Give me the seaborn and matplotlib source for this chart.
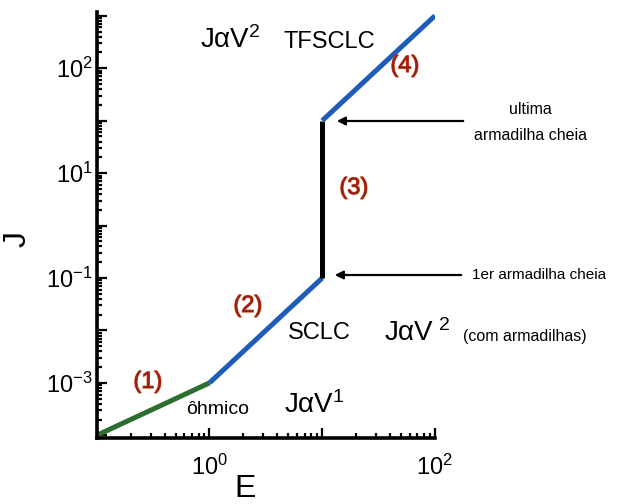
import numpy as np
import pandas as pd
import matplotlib
matplotlib.use("Agg")
import matplotlib.pyplot as plt
import matplotlib.ticker as mticker
import matplotlib.patheffects as pe
import seaborn as sns

# trechos da curva J x E (log-log)
trecho = ["ohmico", "ohmico", "sclc", "sclc", "tfl", "tfl", "tfsclc", "tfsclc"]
campo_E = [0.1, 1.0, 1.0, 10.0, 10.0, 10.0, 10.0, 100.0]
corrente_J = [1e-4, 1e-3, 1e-3, 1e-1, 1e-1, 1e2, 1e2, 1e4]
cores = {"ohmico": "#2b6e30", "sclc": "#1f5cb8", "tfl": "#000000", "tfsclc": "#1f5cb8"}

# rotulos dos eixos como aparecem na figura
y_rotulos = {-3: r"$10^{-3}$", -1: r"$10^{-1}$", 1: r"$10^{1}$", 3: r"$10^{2}$"}
x_rotulos = {0: r"$10^{0}$", 2: r"$10^{2}$"}

sns.set_style("white")
plt.rcParams["font.family"] = ["Liberation Sans", "DejaVu Sans"]
plt.rcParams["text.color"] = "black"
plt.rcParams["mathtext.fontset"] = "custom"
plt.rcParams["mathtext.rm"] = "Liberation Sans"
plt.rcParams["mathtext.it"] = "Liberation Sans"

df = pd.DataFrame({"E": campo_E, "J": corrente_J, "trecho": trecho})
df["seg"] = np.repeat(np.arange(len(trecho) // 2), 2)

fig = plt.figure(figsize=(6.24, 5.04), dpi=100)
ax = fig.add_axes([0.155, 0.131, 0.542, 0.845])

for s, g in df.groupby("seg"):
    sns.lineplot(data=g, x="E", y="J", color=cores[g["trecho"].iloc[0]],
                 lw=3.6, sort=False, estimator=None, ax=ax, legend=False,
                 solid_capstyle="butt")

ax.set_xscale("log")
ax.set_yscale("log")
ax.set_xlim(10 ** -1.0, 10 ** 2.0)
ax.set_ylim(10 ** -4.05, 10 ** 4.07)

ax.xaxis.set_major_locator(mticker.LogLocator(base=10, numticks=20))
ax.yaxis.set_major_locator(mticker.LogLocator(base=10, numticks=20))
ax.xaxis.set_minor_locator(mticker.LogLocator(base=10, subs=np.arange(2, 10), numticks=20))
ax.yaxis.set_minor_locator(mticker.LogLocator(base=10, subs=np.arange(2, 10), numticks=20))
ax.xaxis.set_major_formatter(mticker.FuncFormatter(
    lambda v, p: x_rotulos.get(int(round(np.log10(v))), "")))
ax.yaxis.set_major_formatter(mticker.FuncFormatter(
    lambda v, p: y_rotulos.get(int(round(np.log10(v))), "")))
ax.xaxis.set_minor_formatter(mticker.NullFormatter())
ax.yaxis.set_minor_formatter(mticker.NullFormatter())

ax.tick_params(which="both", direction="in", width=1.6, colors="black",
               bottom=True, left=True, top=False, right=False)
ax.tick_params(which="major", length=7, labelsize=17, labelcolor="black")
ax.tick_params(which="minor", length=3.5)
ax.tick_params(axis="x", which="major", pad=12)
ax.tick_params(axis="y", which="major", pad=3)

sns.despine(ax=ax)
for lado in ["left", "bottom"]:
    ax.spines[lado].set_linewidth(2.6)
    ax.spines[lado].set_color("black")

ax.set_xlabel("E", fontsize=23, color="black")
ax.set_ylabel("J", fontsize=23, color="black")
ax.xaxis.set_label_coords(0.438, -0.085)
ax.yaxis.set_label_coords(-0.19, 0.468)

vermelho = dict(color="#8a2414", fontsize=17,
                path_effects=[pe.withStroke(linewidth=0.9, foreground="#d8401f")])
fig.text(405 / 624, 1 - 66 / 504, "(4)", ha="center", va="center", **vermelho)
fig.text(354 / 624, 1 - 188 / 504, "(3)", ha="center", va="center", **vermelho)
fig.text(248 / 624, 1 - 306 / 504, "(2)", ha="center", va="center", **vermelho)
fig.text(148 / 624, 1 - 382 / 504, "(1)", ha="center", va="center", **vermelho)

fig.text(200 / 624, 1 - 40 / 504, r"J$\alpha$V$^{2}$", fontsize=20, va="center", ha="left")
fig.text(283 / 624, 1 - 42 / 504, "TFSCLC", fontsize=17, va="center", ha="left")
fig.text(288 / 624, 1 - 333 / 504, "SCLC", fontsize=17, va="center", ha="left")
fig.text(384 / 624, 1 - 333 / 504, r"J$\alpha$V$^{\ 2}$", fontsize=20, va="center", ha="left")
fig.text(463 / 624, 1 - 337 / 504, "(com armadilhas)", fontsize=11.5, va="center", ha="left")
fig.text(186 / 624, 1 - 410 / 504, "ôhmico", fontsize=14, va="center", ha="left")
fig.text(284 / 624, 1 - 405 / 504, r"J$\alpha$V$^{1}$", fontsize=20, va="center", ha="left")

fig.text(530 / 624, 1 - 110 / 504, "ultima", fontsize=11.5, ha="center", va="center")
fig.text(530 / 624, 1 - 136 / 504, "armadilha cheia", fontsize=11.5, ha="center", va="center")
fig.text(539 / 624, 1 - 275 / 504, "1er armadilha cheia", fontsize=11, ha="center", va="center")

seta = dict(arrowstyle="-|>", color="black", lw=1.6, mutation_scale=12)
ax.annotate("", xy=(334 / 624, 1 - 121 / 504), xytext=(466 / 624, 1 - 121 / 504),
            xycoords="figure fraction", textcoords="figure fraction", arrowprops=seta)
ax.annotate("", xy=(332 / 624, 1 - 275 / 504), xytext=(464 / 624, 1 - 275 / 504),
            xycoords="figure fraction", textcoords="figure fraction", arrowprops=seta)

fig.savefig("out.png", dpi=100)
